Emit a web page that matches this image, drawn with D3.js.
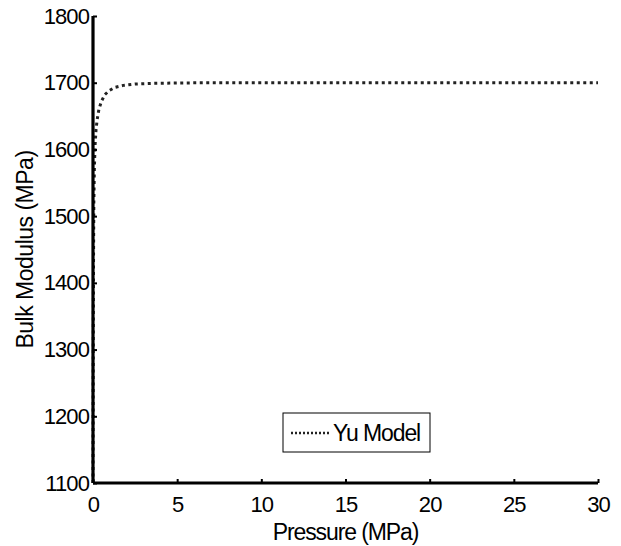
<!DOCTYPE html>
<html>
<head>
<meta charset="utf-8">
<script src="https://cdn.jsdelivr.net/npm/d3@7"></script>
<style>
  body { margin: 0; background: #fff; }
  text { font-family: "Liberation Sans", Arial, sans-serif; fill: #000; }
</style>
</head>
<body>
<svg id="chart" width="621" height="546"></svg>
<script>
// --- data ---
const pressure = [0, 0.01, 0.02, 0.03, 0.05, 0.08, 0.12, 0.18, 0.25, 0.35, 0.5, 0.7, 0.95, 1.3, 1.8, 2.5, 3.5, 5, 7, 10, 15, 20, 25, 30];
const bulkModulus = [1100, 1250, 1350, 1430, 1520, 1570, 1605, 1630, 1645, 1660, 1672, 1682, 1688, 1693, 1696, 1698, 1699, 1699.6, 1700, 1700, 1700, 1700, 1700, 1700];
const xTicks = [0, 5, 10, 15, 20, 25, 30];
const yTicks = [1100, 1200, 1300, 1400, 1500, 1600, 1700, 1800];
const seriesName = "Yu Model";

const svg = d3.select("#chart");
const margin = { left: 93, right: 23, top: 16, bottom: 63 };
const width = 621, height = 546;

const x = d3.scaleLinear().domain([0, 30]).range([margin.left, width - margin.right]);
const y = d3.scaleLinear().domain([1100, 1800]).range([height - margin.bottom, margin.top]);

// curve
const line = d3.line().x((d, i) => x(pressure[i])).y(d => y(d));
svg.append("path")
    .datum(bulkModulus)
    .attr("d", line)
    .attr("fill", "none")
    .attr("stroke", "#222")
    .attr("stroke-width", 3)
    .attr("stroke-dasharray", "3,3.5");

// axes
const xAxis = svg.append("g").attr("transform", `translate(0,${y(1100)})`)
    .call(d3.axisBottom(x).tickValues(xTicks).tickSize(-4).tickPadding(13).tickFormat(d3.format("d")));
const yAxis = svg.append("g").attr("transform", `translate(${x(0)},0)`)
    .call(d3.axisLeft(y).tickValues(yTicks).tickSize(-4).tickPadding(5).tickFormat(d3.format("d")));

[xAxis, yAxis].forEach(a => {
    a.select(".domain").attr("stroke", "#000").attr("stroke-width", 3.2);
    a.selectAll(".tick line").attr("stroke", "#000").attr("stroke-width", 2);
    a.selectAll(".tick text").style("font-size", "22px").style("letter-spacing", "-0.9px");
});
xAxis.select(".domain").attr("d", `M${x(0)},0H${x(30)}`);
yAxis.select(".domain").attr("d", `M0,${y(1100)}V${y(1800)}`);
yAxis.selectAll(".tick text").attr("x", -4);

// axis titles
svg.append("text")
    .attr("x", x(15)).attr("y", 540)
    .attr("text-anchor", "middle")
    .style("font-size", "23px").style("letter-spacing", "-1.1px")
    .text("Pressure (MPa)");
svg.append("text")
    .attr("transform", `translate(33,${y(1450)}) rotate(-90)`)
    .attr("text-anchor", "middle")
    .style("font-size", "23px").style("letter-spacing", "-0.5px")
    .text("Bulk Modulus (MPa)");

// legend
const legend = svg.append("g").attr("transform", "translate(283,413)");
legend.append("rect").attr("width", 147).attr("height", 39)
    .attr("fill", "#fff").attr("stroke", "#000").attr("stroke-width", 1);
legend.append("line").attr("x1", 8).attr("x2", 48).attr("y1", 20).attr("y2", 20)
    .attr("stroke", "#222").attr("stroke-width", 2.5).attr("stroke-dasharray", "2,2");
legend.append("text").attr("x", 50).attr("y", 28)
    .style("font-size", "23px").style("letter-spacing", "-1.1px")
    .text(seriesName);
</script>
</body>
</html>
